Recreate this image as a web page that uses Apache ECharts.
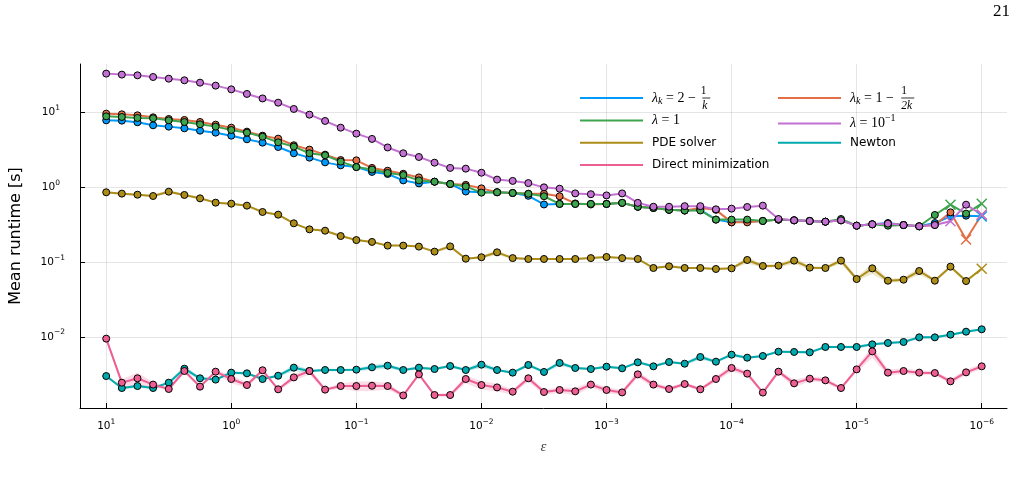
<!DOCTYPE html>
<html>
<head>
<meta charset="utf-8">
<title>Mean runtime</title>
<script src="https://cdn.jsdelivr.net/npm/echarts@6/dist/echarts.min.js"></script>
<style>
  html, body { margin: 0; padding: 0; background: #fff; }
  #chart { width: 1025px; height: 486px; }
</style>
</head>
<body>
<div id="chart"></div>
<script>
// epsilon grid: 8 points per decade, 1e1 down to 1e-6
var eps = [
  1e1, 7.499, 5.623, 4.217, 3.162, 2.371, 1.778, 1.334,
  1e0, 7.499e-1, 5.623e-1, 4.217e-1, 3.162e-1, 2.371e-1, 1.778e-1, 1.334e-1,
  1e-1, 7.499e-2, 5.623e-2, 4.217e-2, 3.162e-2, 2.371e-2, 1.778e-2, 1.334e-2,
  1e-2, 7.499e-3, 5.623e-3, 4.217e-3, 3.162e-3, 2.371e-3, 1.778e-3, 1.334e-3,
  1e-3, 7.499e-4, 5.623e-4, 4.217e-4, 3.162e-4, 2.371e-4, 1.778e-4, 1.334e-4,
  1e-4, 7.499e-5, 5.623e-5, 4.217e-5, 3.162e-5, 2.371e-5, 1.778e-5, 1.334e-5,
  1e-5, 7.499e-6, 5.623e-6, 4.217e-6, 3.162e-6, 2.371e-6, 1.778e-6, 1.334e-6,
  1e-6
];
var xTicks = [1e1, 1e0, 1e-1, 1e-2, 1e-3, 1e-4, 1e-5, 1e-6];
var yTicks = [1e-2, 1e-1, 1e0, 1e1];

// mean runtime [s]
var lamK2 = [
  7.89, 7.82, 7.43, 6.77, 6.50, 6.17, 5.74, 5.40,
  4.92, 4.40, 3.97, 3.47, 2.86, 2.50, 2.16, 1.97,
  1.87, 1.61, 1.51, 1.24, 1.13, 1.19, 1.11, 0.88,
  0.86, 0.86, 0.84, 0.77, 0.59, 0.60, 0.60, 0.60,
  0.60, 0.62, 0.55, 0.53, 0.50, 0.49, 0.50, 0.37,
  0.34, 0.35, 0.355, 0.37, 0.362, 0.355, 0.347, 0.362,
  0.307, 0.320, 0.333, 0.313, 0.301, 0.333, 0.409, 0.418,
  0.409
];
var lamK1 = [
  9.70, 9.50, 9.21, 8.66, 8.23, 7.98, 7.50, 6.91,
  6.30, 5.57, 4.92, 4.49, 3.66, 3.20, 2.74, 2.32,
  2.30, 1.82, 1.67, 1.52, 1.36, 1.19, 1.11, 1.08,
  0.97, 0.86, 0.84, 0.82, 0.82, 0.76, 0.61, 0.59,
  0.60, 0.62, 0.55, 0.53, 0.50, 0.49, 0.53, 0.50,
  0.34, 0.34, 0.355, 0.37, 0.362, 0.355, 0.347, 0.362,
  0.307, 0.320, 0.327, 0.313, 0.301, 0.313, 0.463, 0.200,
  0.431
];
var lamOne = [
  8.93, 8.75, 8.49, 8.40, 7.89, 7.50, 6.98, 6.50,
  5.86, 5.40, 4.77, 4.01, 3.51, 2.86, 2.69, 2.21,
  1.87, 1.73, 1.56, 1.46, 1.24, 1.19, 1.11, 1.03,
  0.85, 0.86, 0.84, 0.82, 0.76, 0.60, 0.60, 0.60,
  0.60, 0.62, 0.55, 0.53, 0.50, 0.49, 0.49, 0.37,
  0.37, 0.37, 0.355, 0.37, 0.362, 0.355, 0.347, 0.377,
  0.307, 0.320, 0.307, 0.313, 0.301, 0.427, 0.586, 0.445,
  0.605
];
var lamTenth = [
  33.3, 32.3, 31.6, 30.0, 28.5, 27.1, 25.2, 23.0,
  20.5, 17.8, 15.5, 13.6, 11.2, 9.4, 7.74, 6.3,
  5.24, 4.45, 3.42, 2.86, 2.55, 2.14, 1.82, 1.78,
  1.57, 1.27, 1.22, 1.14, 1.00, 0.96, 0.83, 0.81,
  0.78, 0.83, 0.62, 0.55, 0.55, 0.56, 0.56, 0.508,
  0.519, 0.546, 0.569, 0.377, 0.362, 0.355, 0.347, 0.362,
  0.307, 0.320, 0.327, 0.313, 0.301, 0.313, 0.351, 0.586,
  0.43
];
var pdeSolver = [
  0.859, 0.824, 0.798, 0.766, 0.875, 0.791, 0.713, 0.624,
  0.605, 0.569, 0.468, 0.431, 0.330, 0.274, 0.263, 0.223,
  0.197, 0.186, 0.166, 0.166, 0.161, 0.138, 0.162, 0.111,
  0.116, 0.135, 0.113, 0.110, 0.110, 0.110, 0.110, 0.113,
  0.117, 0.113, 0.110, 0.0833, 0.0878, 0.0833, 0.0833, 0.0808,
  0.0824, 0.1067, 0.0886, 0.0895, 0.1045, 0.0842, 0.0833, 0.1045,
  0.0593, 0.0824, 0.0563, 0.0581, 0.0759, 0.0563, 0.0868, 0.0557,
  0.0816
];
var newton = [
  0.00298, 0.00206, 0.00219, 0.00206, 0.00243, 0.00374, 0.00278, 0.00267,
  0.00331, 0.00324, 0.00272, 0.00301, 0.00386, 0.00348, 0.00359, 0.00359,
  0.00363, 0.00390, 0.00410, 0.00359, 0.00386, 0.00370, 0.00406, 0.00359,
  0.00423, 0.00359, 0.00331, 0.00419, 0.00338, 0.00446, 0.00382, 0.00370,
  0.00398, 0.00378, 0.00455, 0.00402, 0.00459, 0.00436, 0.00536, 0.00464,
  0.00576, 0.00525, 0.00553, 0.00632, 0.00626, 0.00619, 0.00730, 0.00730,
  0.00730, 0.00792, 0.00826, 0.00851, 0.00982, 0.00982, 0.01067, 0.01170,
  0.01259
];
var directMin = [
  0.00944, 0.00243, 0.00278, 0.00229, 0.00200, 0.00348, 0.00215, 0.00341,
  0.00272, 0.00226, 0.00356, 0.00198, 0.00286, 0.00348, 0.00196, 0.00219,
  0.00219, 0.00221, 0.00219, 0.00164, 0.00314, 0.00166, 0.00166, 0.00272,
  0.00226, 0.00210, 0.00184, 0.00278, 0.00182, 0.00194, 0.00186, 0.00229,
  0.00194, 0.00180, 0.00314, 0.00229, 0.00200, 0.00233, 0.00198, 0.00272,
  0.00382, 0.00321, 0.00179, 0.00341, 0.00238, 0.00275, 0.00261, 0.00206,
  0.00366, 0.00638, 0.00331, 0.00348, 0.00331, 0.00327, 0.00253, 0.00334,
  0.00402
];

// relative half-width of the shaded spread around the mean
var pdeSpread = [
  0.03, 0.03, 0.03, 0.03, 0.05, 0.03, 0.03, 0.03,
  0.03, 0.03, 0.03, 0.03, 0.03, 0.03, 0.03, 0.03,
  0.03, 0.03, 0.03, 0.03, 0.03, 0.04, 0.06, 0.03,
  0.04, 0.08, 0.03, 0.03, 0.03, 0.03, 0.03, 0.03,
  0.03, 0.03, 0.03, 0.03, 0.04, 0.03, 0.03, 0.03,
  0.03, 0.10, 0.05, 0.05, 0.10, 0.05, 0.04, 0.09,
  0.06, 0.16, 0.06, 0.06, 0.11, 0.05, 0.05, 0.05,
  0.04
];
var newtonSpread = [
  0.04, 0.05, 0.05, 0.04, 0.04, 0.10, 0.04, 0.04,
  0.04, 0.04, 0.04, 0.04, 0.10, 0.05, 0.04, 0.04,
  0.04, 0.08, 0.08, 0.04, 0.05, 0.04, 0.05, 0.04,
  0.10, 0.04, 0.04, 0.05, 0.04, 0.08, 0.04, 0.04,
  0.04, 0.04, 0.04, 0.04, 0.04, 0.04, 0.08, 0.04,
  0.06, 0.04, 0.04, 0.04, 0.04, 0.04, 0.04, 0.04,
  0.05, 0.04, 0.04, 0.04, 0.04, 0.04, 0.04, 0.04,
  0.04
];
var directSpread = [
  0.04, 0.10, 0.20, 0.08, 0.05, 0.05, 0.05, 0.05,
  0.12, 0.08, 0.05, 0.05, 0.10, 0.10, 0.05, 0.08,
  0.15, 0.15, 0.10, 0.05, 0.05, 0.05, 0.05, 0.12,
  0.12, 0.12, 0.08, 0.10, 0.08, 0.08, 0.12, 0.08,
  0.10, 0.08, 0.10, 0.08, 0.06, 0.06, 0.05, 0.08,
  0.10, 0.08, 0.05, 0.06, 0.12, 0.08, 0.08, 0.05,
  0.08, 0.18, 0.10, 0.08, 0.08, 0.06, 0.08, 0.08,
  0.08
];

// indices drawn with a cross instead of a circle
var crossLamK2 = [56];
var crossLamK1 = [55, 56];
var crossLamOne = [54, 56];
var crossLamTenth = [54, 56];
var crossPde = [56];

var names = ['lamK2', 'lamK1', 'lamOne', 'lamTenth', 'PDE solver', 'Newton', 'Direct minimization'];
var colors = ['#009AFA', '#E36F47', '#3EA44E', '#C371D2', '#AC8D18', '#00A9AD', '#ED5E93'];

var CROSS = 'path://M0,0L10,10M10,0L0,10';

function buildData(values, crosses, color) {
  return values.map(function (v, i) {
    if (crosses.indexOf(i) >= 0) {
      return {
        value: [eps[i], v],
        symbol: CROSS,
        symbolSize: 10,
        itemStyle: { color: 'rgba(0,0,0,0)', borderColor: color, borderWidth: 1.5 }
      };
    }
    return [eps[i], v];
  });
}

function makeSeries(idx, values, crosses) {
  return {
    name: names[idx],
    type: 'line',
    data: buildData(values, crosses, colors[idx]),
    symbol: 'circle',
    symbolSize: 7,
    showAllSymbol: true,
    itemStyle: { color: colors[idx], borderColor: '#000', borderWidth: 1 },
    lineStyle: { color: colors[idx], width: 2 },
    emphasis: { disabled: true },
    z: 3,
    animation: false
  };
}

// ribbon: invisible lower edge + stacked width filled with a light tint.
// runtime goes in the first column so the stack is taken on the y values.
function makeBand(key, values, spread, fill) {
  var lower = values.map(function (v, i) { return [v * (1 - spread[i]), eps[i]]; });
  var width = values.map(function (v, i) { return [v * 2 * spread[i], eps[i]]; });
  var common = {
    type: 'line', stack: key, symbol: 'none', silent: true,
    encode: { x: 1, y: 0 },
    lineStyle: { width: 0, opacity: 0 }, emphasis: { disabled: true },
    z: 1, animation: false
  };
  return [
    Object.assign({ name: key + '-lo', data: lower }, common),
    Object.assign({ name: key + '-w', data: width, areaStyle: { color: fill, opacity: 1 } }, common)
  ];
}

// "10^n" tick labels
function powLabel(v, padPositive) {
  var e = Math.round(Math.log10(v));
  if (e < 0) return '{b|10}{s|\u2212' + (-e) + '}';
  return '{b|10}{' + (padPositive ? 'sp' : 's') + '|' + e + '}';
}
var tickRich = {
  b: { fontSize: 10.5, fontFamily: 'DejaVu Sans', color: '#000' },
  s: { fontSize: 7.5, fontFamily: 'DejaVu Sans', color: '#000', padding: [0, 0, 9, 0] },
  sp: { fontSize: 7.5, fontFamily: 'DejaVu Sans', color: '#000', padding: [0, 5, 9, 0] }
};

var serif = 'Liberation Serif';
var mathRich = {
  m: { fontFamily: serif, fontSize: 14, color: '#000' },
  mi: { fontFamily: serif, fontSize: 14, fontStyle: 'italic', color: '#000' },
  sub: { fontFamily: serif, fontSize: 10, fontStyle: 'italic', color: '#000', padding: [6, 0, 0, 0] },
  sup: { fontFamily: serif, fontSize: 10, color: '#000', padding: [0, 0, 10, 0] },
  num: { fontFamily: serif, fontSize: 11.5, color: '#000', width: 0, padding: [0, 0, 15, 1.5] },
  num2: { fontFamily: serif, fontSize: 11.5, color: '#000', width: 0, padding: [0, 0, 15, 4] },
  den: { fontFamily: serif, fontSize: 11.5, fontStyle: 'italic', color: '#000', width: 0, padding: [15, 0, 0, 1.5] },
  den2: { fontFamily: serif, fontSize: 11.5, fontStyle: 'italic', color: '#000', width: 0, padding: [15, 0, 0, 0] },
  bar: { fontSize: 1, width: 8, height: 0.8, backgroundColor: '#000' },
  bar2: { fontSize: 1, width: 13, height: 0.8, backgroundColor: '#000' }
};

var legendLabels = {
  lamK2: '{mi|\u03bb}{sub|k}{m| = 2 \u2212 }{num|1}{den|k}{bar| }',
  lamK1: '{mi|\u03bb}{sub|k}{m| = 1 \u2212 }{num2|1}{den2|2k}{bar2| }',
  lamOne: '{mi|\u03bb}{m| = 1}',
  lamTenth: '{mi|\u03bb}{m| = 10}{sup|\u22121}'
};

var rowCenters = [98, 120.5, 142.7, 165];
var colLefts = [580, 778];
var legendPos = [[0, 0], [1, 0], [0, 1], [1, 1], [0, 2], [1, 2], [0, 3]];

var legends = names.map(function (n, i) {
  var lh = i < 2 ? 28 : 14;
  return {
    data: [n],
    left: colLefts[legendPos[i][0]],
    top: rowCenters[legendPos[i][1]] - lh / 2,
    padding: 0,
    icon: 'rect',
    itemWidth: 63,
    itemHeight: 2,
    itemStyle: { borderWidth: 0 },
    selectedMode: false,
    formatter: function (name) { return legendLabels[name] || name; },
    textStyle: {
      fontFamily: 'DejaVu Sans', fontSize: 12, color: '#000',
      lineHeight: lh, padding: [0, 0, 0, 4], rich: mathRich
    }
  };
});

var gridLine = { show: true, lineStyle: { color: 'rgba(0,0,0,0.1)', width: 1 } };

var chart = echarts.init(document.getElementById('chart'));

chart.setOption({
  animation: false,
  backgroundColor: '#fff',
  grid: { left: 78, right: 18, top: 64, bottom: 78, containLabel: false },
  legend: legends,
  graphic: [{
    type: 'text', right: 15, top: 3,
    style: { text: '21', font: '17px "Liberation Serif"', fill: '#000' }
  }],
  xAxis: {
    type: 'log',
    logBase: 10,
    inverse: true,
    min: 6.28e-7,
    max: 16.2,
    name: '\u03b5',
    nameLocation: 'middle',
    nameGap: 32,
    nameTextStyle: { fontFamily: serif, fontStyle: 'italic', fontSize: 15, color: '#444' },
    axisLine: { onZero: false, lineStyle: { color: '#000', width: 1 } },
    axisTick: { inside: true, length: 5, customValues: xTicks, lineStyle: { color: '#000' } },
    minorTick: { show: false },
    axisLabel: { margin: 10, customValues: xTicks, formatter: function (v) { return powLabel(v, false); }, rich: tickRich },
    splitLine: gridLine
  },
  yAxis: {
    type: 'log',
    logBase: 10,
    min: 1.113e-3,
    max: 44.8,
    name: 'Mean runtime [s]',
    nameLocation: 'middle',
    nameGap: 56,
    nameRotate: 90,
    nameTextStyle: { fontFamily: 'DejaVu Sans', fontSize: 16, color: '#000' },
    axisLine: { show: true, lineStyle: { color: '#000', width: 1 } },
    axisTick: { show: true, inside: true, length: 5, customValues: yTicks, lineStyle: { color: '#000' } },
    minorTick: { show: false },
    axisLabel: { margin: 15, customValues: yTicks, formatter: function (v) { return powLabel(v, true); }, rich: tickRich },
    splitLine: gridLine
  },
  series: [].concat(
    makeBand('pde', pdeSolver, pdeSpread, 'rgba(172,141,24,0.22)'),
    makeBand('newton', newton, newtonSpread, 'rgba(0,169,173,0.22)'),
    makeBand('direct', directMin, directSpread, 'rgba(237,94,147,0.22)'),
    [
      makeSeries(0, lamK2, crossLamK2),
      makeSeries(1, lamK1, crossLamK1),
      makeSeries(2, lamOne, crossLamOne),
      makeSeries(3, lamTenth, crossLamTenth),
      makeSeries(4, pdeSolver, crossPde),
      makeSeries(5, newton, []),
      makeSeries(6, directMin, [])
    ]
  )
});
</script>
</body>
</html>
